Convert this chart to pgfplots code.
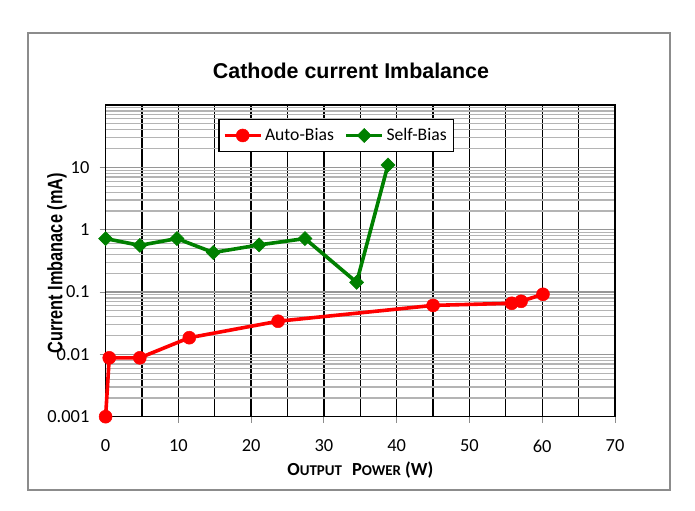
\documentclass[border=0pt]{standalone}
\usepackage{graphicx}
\usepackage{fontspec}
\setmainfont{Carlito}
\newfontfamily\arialfont{Liberation Sans}
\usepackage{pgfplots}
\pgfplotsset{compat=1.18}
\definecolor{exred}{RGB}{255,0,0}
\definecolor{exgreen}{RGB}{0,128,0}
\newcommand{\lf}{\fontsize{17.7}{20}\selectfont}
\begin{document}
\begin{tikzpicture}
\path[use as bounding box, fill=white] (0,0) rectangle (695bp,511bp);
\draw[line width=1.3bp, color={rgb,255:red,140;green,140;blue,140}] (28bp,21bp) rectangle (670bp,478bp);
\begin{axis}[
  at={(105.6bp,94.3bp)}, anchor=south west,
  scale only axis, width=509.4bp, height=311.7bp,
  xmin=0, xmax=70, ymin=0.001, ymax=100, ymode=log,
  clip=false,
  xtick={0,10,...,70}, minor xtick={5,15,...,65},
  ytick={0.001,0.01,0.1,1,10}, yticklabels={0.001,0.01,0.1,1,10},
  minor ytick={0.002,0.003,0.004,0.005,0.006,0.007,0.008,0.009,
               0.02,0.03,0.04,0.05,0.06,0.07,0.08,0.09,
               0.2,0.3,0.4,0.5,0.6,0.7,0.8,0.9,
               2,3,4,5,6,7,8,9,
               20,30,40,50,60,70,80,90},
  xmajorgrids, xminorgrids, ymajorgrids, yminorgrids,
  major x grid style={black, line width=1.3bp},
  minor x grid style={black, line width=1.3bp},
  major y grid style={color={rgb,255:red,150;green,150;blue,150}, line width=1.3bp},
  minor y grid style={color={rgb,255:red,180;green,180;blue,180}, line width=1.2bp},
  tick align=outside, tick pos=left,
  major tick length=6bp, minor tick length=0pt,
  tick style={color={rgb,255:red,140;green,140;blue,140}, line width=1bp},
  axis line style={black, line width=1.3bp},
  /pgf/number format/assume math mode=true,
  ticklabel style={font=\fontsize{18.5}{20}\selectfont},
  yticklabel style={inner sep=0pt, anchor=east, xshift=-10bp},
  xticklabel style={inner sep=0pt, anchor=north, yshift=-17bp},
  legend style={at={(0.2213,0.955)}, anchor=north west, draw=black, line width=1.2bp,
    fill=white, inner xsep=4bp, inner ysep=7bp,
    nodes={inner xsep=2.5bp, inner ysep=2bp},
    /tikz/every even column/.append style={column sep=8bp}},
  legend columns=2,
  legend image code/.code={\draw[mark repeat=2,mark phase=2] plot coordinates {(0bp,0bp) (18bp,0bp) (36bp,0bp)};},
]
\addplot[color=exred, line width=3.6bp, mark=*, mark size=6.5bp, mark options={fill=exred, draw=exred, line width=0.5bp}]
  coordinates {(0,0.001) (0.5,0.0088) (4.7,0.0088) (11.5,0.0185) (23.7,0.034) (45.0,0.061) (55.8,0.066) (57.1,0.071) (60.1,0.092)};
\addlegendentry{\lf Auto-Bias}
\addplot[color=exgreen, line width=3.6bp, mark=square*, mark size=5bp, mark options={rotate=45, fill=exgreen, draw=exgreen, line width=0.5bp}]
  coordinates {(0,0.72) (4.7,0.56) (9.8,0.72) (14.8,0.43) (21.1,0.57) (27.4,0.72) (34.5,0.143) (38.8,10.9)};
\addlegendentry{\lf Self-Bias}
\draw[black, line width=2.8bp] (rel axis cs:0,1) -- (rel axis cs:1,1) -- (rel axis cs:1,0);
\end{axis}
\node[anchor=base, font=\arialfont\bfseries\fontsize{21.5}{24}\selectfont] at (351bp,432.7bp) {Cathode current Imbalance};
\node[rotate=90, anchor=base, inner sep=0pt, font=\arialfont\bfseries\fontsize{21}{24}\selectfont] at (62.3bp,247.6bp) {\scalebox{0.78}[1]{Current Imbanace (mA)}};
\node[anchor=base, inner sep=0pt, font=\bfseries] at (360.3bp,36bp) {{\fontsize{18.5}{20}\selectfont O}{\fontsize{15}{16}\selectfont UTPUT}\hspace{10bp}{\fontsize{18.5}{20}\selectfont P}{\fontsize{15}{16}\selectfont OWER}\hspace{4bp}{\fontsize{18.5}{20}\selectfont (W)}};
\end{tikzpicture}
\end{document}
